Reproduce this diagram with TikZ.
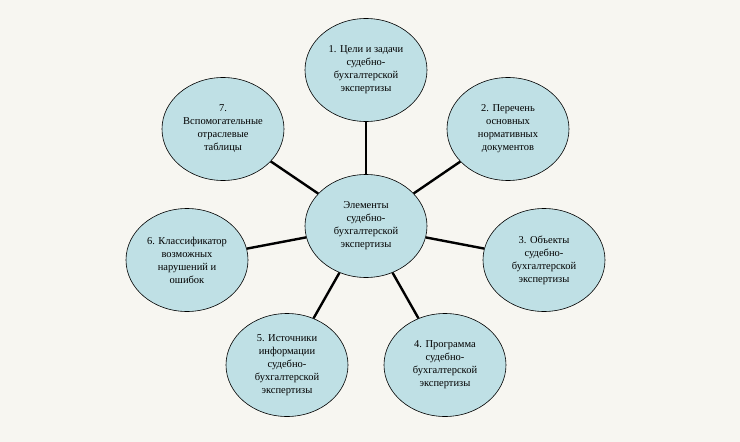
\documentclass[tikz,border=0pt]{standalone}
\usepackage{fontspec}
\setmainfont{Liberation Serif}
\usetikzlibrary{shapes.geometric}
\definecolor{bgpaper}{HTML}{F7F6F1}
\definecolor{cellblue}{HTML}{BFE0E5}
\tikzset{
  elem/.style={ellipse,draw=black,line width=0.6pt,fill=cellblue,
    minimum width=122pt,minimum height=103pt,inner sep=0pt,
    align=center,font=\fontsize{10.5}{13}\selectfont},
  link/.style={draw=black,line width=2.4pt}
}
\begin{document}
\begin{tikzpicture}[x=1pt,y=-1pt]
\fill[bgpaper](0,0) rectangle (740,442);
\useasboundingbox(0,0) rectangle (740,442);
\node[elem](c) at (366,226){Элементы\\судебно-\\бухгалтерской\\экспертизы};
\node[elem](e1) at (366,70){1. Цели и задачи\\судебно-\\бухгалтерской\\экспертизы};
\node[elem](e2) at (508,129){2. Перечень\\основных\\нормативных\\документов};
\node[elem](e3) at (544,260){3. Объекты\\судебно-\\бухгалтерской\\экспертизы};
\node[elem](e4) at (445,365){4. Программа\\судебно-\\бухгалтерской\\экспертизы};
\node[elem](e5) at (287,365){5. Источники\\информации\\судебно-\\бухгалтерской\\экспертизы};
\node[elem](e6) at (187,260){6. Классификатор\\возможных\\нарушений и\\ошибок};
\node[elem](e7) at (223,129){7.\\Вспомогательные\\отраслевые\\таблицы};
\foreach \e in {e1,e2,e3,e4,e5,e6,e7}
  \draw[link](c)--(\e);
\end{tikzpicture}
\end{document}
